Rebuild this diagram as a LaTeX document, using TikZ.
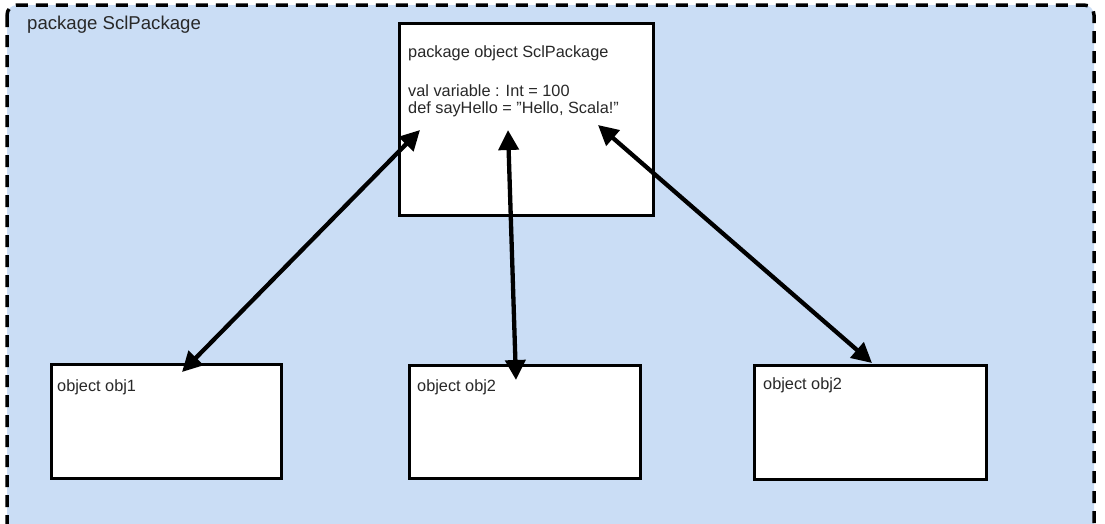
\documentclass[tikz,border=0pt]{standalone}
\usepackage{fontspec}
\setmainfont{Liberation Sans}
\usetikzlibrary{arrows.meta}
\definecolor{pkgfill}{RGB}{202,221,245}
\definecolor{txt}{RGB}{40,40,40}
\begin{document}
\begin{tikzpicture}[x=1pt,y=-1pt,
  objbox/.style={draw=black, fill=white, line width=2.5pt, inner sep=0pt, anchor=north west},
  lbl/.style={anchor=base west, inner sep=0pt, text=txt, font=\fontsize{16.3}{19}\selectfont},
  link/.style={line width=4.3pt, {Triangle[length=20pt,width=20pt]}-{Triangle[length=20pt,width=20pt]}}
]
\useasboundingbox (0,0) rectangle (1105,523);
\fill[white] (0,0) rectangle (1105,523);
\begin{scope}
\clip (0,0) rectangle (1105,523);
\draw[fill=pkgfill, line width=3.5pt, dash pattern=on 12pt off 8pt, rounded corners=10pt] (7,5) rectangle (1094,560);
\end{scope}
\node[lbl, font=\fontsize{18.6}{21}\selectfont] (title) at (27,29) {package SclPackage};

\node[objbox, minimum width=254pt, minimum height=192pt] (top) at (398,22) {};
\node[lbl] (t1) at (408,57) {package object SclPackage};
\node[lbl] (t2) at (408,96) {val variable : Int = 100};
\node[lbl] (t3) at (408,113) {def sayHello = \symbol{34}Hello, Scala!\symbol{34}};

\node[objbox, minimum width=230pt, minimum height=114pt] (o1) at (50,363) {};
\node[objbox, minimum width=231pt, minimum height=113pt] (o2) at (408,364) {};
\node[objbox, minimum width=232pt, minimum height=114pt] (o3) at (753,364) {};
\node[lbl] (l1) at (57,391) {object obj1};
\node[lbl] (l2) at (417,391) {object obj2};
\node[lbl] (l3) at (763,389) {object obj2};

\coordinate (a1) at (420,130);
\coordinate (a2) at (508,130);
\coordinate (a3) at (598,125);
\coordinate (b1) at (182,372);
\coordinate (b2) at (516,380);
\coordinate (b3) at (872,363);
\draw[link] (a1) -- (b1);
\draw[link] (a2) -- (b2);
\draw[link] (a3) -- (b3);
\end{tikzpicture}
\end{document}
